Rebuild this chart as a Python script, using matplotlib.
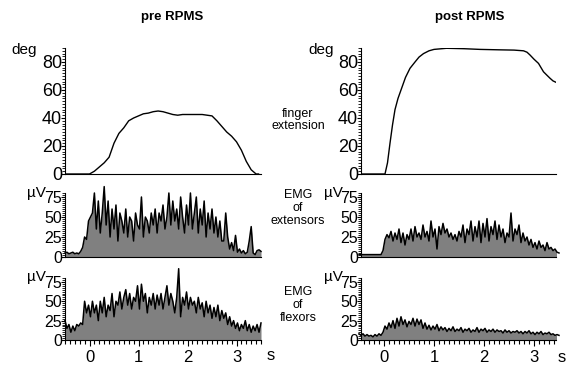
import numpy as np
import matplotlib.pyplot as plt
from matplotlib.ticker import MultipleLocator

plt.rcParams['font.family'] = ['Liberation Sans', 'DejaVu Sans']

# finger extension angle (deg)
t_ang_pre = [-0.5, -0.1, 0.0, 0.1, 0.2, 0.3, 0.4, 0.5, 0.6, 0.7, 0.8, 0.9, 1.0, 1.1, 1.2,
             1.3, 1.4, 1.5, 1.6, 1.7, 1.8, 1.9, 2.0, 2.1, 2.2, 2.3, 2.4, 2.5, 2.6, 2.7,
             2.8, 2.9, 3.0, 3.1, 3.2, 3.3, 3.4, 3.45]
deg_pre = [0, 0, 0, 2, 5, 8, 12, 22, 29, 33, 38, 40, 41.5, 43, 43.5,
           44.5, 45, 44.5, 43.5, 42.5, 42, 42.5, 42.5, 42.5, 42.5, 42.5, 42, 41.5, 38, 34,
           30, 27, 23, 17, 9, 3, 0, 0]

t_ang_post = [-0.5, 0.0, 0.02, 0.07, 0.12, 0.17, 0.22, 0.28, 0.35, 0.43, 0.52, 0.62, 0.7,
              0.79, 0.9, 1.0, 1.25, 1.6, 1.92, 2.3, 2.6, 2.79, 2.86, 2.92, 3.0, 3.09,
              3.19, 3.26, 3.32, 3.38, 3.44]
deg_post = [0, 0, 0, 8, 22, 35, 46, 54, 61, 69, 75.5, 80, 83.5,
            86, 88, 89, 89.8, 89.5, 89, 88.7, 88.5, 88, 87, 85, 82, 79,
            73, 70.5, 68.4, 66.5, 65.5]

# EMG envelopes (uV), sampled every 0.04 s from -0.5 s to 3.5 s
t_emg = np.linspace(-0.5, 3.5, 101)

ext_pre = [5, 6, 4, 5, 6, 4, 5, 4, 7, 12, 25, 22, 45, 50, 55, 80, 35, 70, 30, 55,
           88, 40, 70, 25, 60, 35, 65, 20, 55, 45, 30, 60, 25, 50, 45, 20, 55, 40, 35, 75,
           25, 50, 45, 30, 55, 40, 60, 30, 55, 45, 65, 35, 50, 80, 40, 70, 45, 60, 35, 75,
           50, 30, 65, 40, 80, 35, 55, 75, 30, 60, 40, 70, 25, 55, 35, 60, 30, 50, 25, 45,
           20, 20, 55, 25, 10, 18, 8, 27, 6, 10, 5, 8, 4, 6, 20, 38, 5, 3, 8, 9, 7]

flex_pre = [25, 15, 20, 10, 18, 12, 20, 18, 22, 20, 50, 35, 45, 30, 50, 35, 45, 25, 50, 35,
            55, 30, 45, 38, 60, 30, 50, 45, 62, 40, 55, 65, 45, 60, 40, 55, 50, 70, 40, 72,
            50, 60, 35, 55, 45, 60, 40, 58, 45, 60, 40, 55, 70, 45, 60, 50, 35, 55, 92, 30,
            55, 45, 62, 40, 55, 45, 50, 35, 55, 40, 48, 30, 50, 35, 45, 28, 42, 30, 45, 25,
            38, 28, 35, 20, 30, 18, 25, 15, 22, 12, 20, 15, 25, 12, 20, 10, 18, 12, 20, 10, 22]

ext_post = [3, 3, 3, 3, 3, 3, 3, 3, 3, 3, 3, 3, 8, 22, 28, 24, 32, 20, 30, 22,
            35, 18, 30, 15, 28, 22, 35, 20, 38, 25, 30, 22, 40, 25, 32, 20, 45, 25, 35, 10,
            38, 28, 42, 30, 35, 25, 30, 22, 28, 20, 32, 25, 40, 18, 35, 28, 45, 20, 38, 25,
            45, 18, 42, 25, 48, 20, 38, 28, 45, 22, 40, 25, 35, 18, 30, 25, 55, 20, 35, 28,
            40, 18, 30, 20, 25, 15, 22, 12, 18, 10, 20, 12, 15, 8, 18, 10, 12, 8, 10, 6, 5]

flex_post = [8, 6, 8, 5, 7, 5, 6, 4, 7, 5, 8, 6, 10, 18, 14, 22, 16, 25, 15, 28,
             18, 30, 20, 26, 17, 24, 20, 28, 18, 27, 20, 26, 15, 22, 14, 19, 13, 18, 14, 20,
             12, 17, 13, 16, 11, 15, 12, 17, 11, 14, 12, 16, 10, 14, 12, 15, 10, 13, 11, 16,
             10, 14, 12, 15, 10, 13, 11, 14, 10, 13, 11, 12, 9, 13, 10, 12, 9, 11, 10, 12,
             9, 11, 8, 11, 9, 12, 8, 10, 7, 10, 8, 11, 7, 9, 8, 10, 7, 8, 6, 7, 6]

W, H = 567, 366
fig = plt.figure(figsize=(W / 100, H / 100), dpi=100)


def px_axes(x0, x1, y0, y1):
    # y0 = bottom pixel row, y1 = top pixel row
    return fig.add_axes([x0 / W, 1 - y0 / H, (x1 - x0) / W, (y0 - y1) / H])


def style(ax, ymaj, ymin, fs, xt=False):
    for s in ['top', 'right']:
        ax.spines[s].set_visible(False)
    ax.yaxis.set_major_locator(MultipleLocator(ymaj))
    ax.yaxis.set_minor_locator(MultipleLocator(ymin))
    ax.tick_params(axis='y', which='major', length=3, width=0.8, pad=-1, labelsize=fs)
    ax.tick_params(axis='y', which='minor', length=2, width=0.6)
    if xt:
        ax.xaxis.set_major_locator(MultipleLocator(1))
        ax.xaxis.set_minor_locator(MultipleLocator(0.1))
        ax.tick_params(axis='x', which='major', length=4, width=0.8, pad=3, labelsize=12)
        ax.tick_params(axis='x', which='minor', length=3, width=0.8)
    else:
        ax.set_xticks([])


cols = [(65, 261, (-0.5, 3.5)), (361, 556, (-0.46, 3.44))]
for i, (x0, x1, xl) in enumerate(cols):
    # angle
    ax = px_axes(x0, x1, 174, 48)
    t_a, d_a = (t_ang_pre, deg_pre) if i == 0 else (t_ang_post, deg_post)
    ax.plot(t_a, d_a, color='black', lw=1)
    ax.set_xlim(*xl)
    ax.set_ylim(0, 90)
    style(ax, 20, 2, 13)

    # extensors
    ax = px_axes(x0, x1, 257, 193)
    e = ext_pre if i == 0 else ext_post
    ax.fill_between(t_emg, e, color='#808080', lw=0)
    ax.plot(t_emg, e, color='black', lw=1.1, clip_on=False)
    ax.set_xlim(*xl)
    ax.set_ylim(0, 80)
    style(ax, 25, 2.5, 11.5)

    # flexors
    ax = px_axes(x0, x1, 340, 278)
    f = flex_pre if i == 0 else flex_post
    ax.fill_between(t_emg, f, color='#808080', lw=0)
    ax.plot(t_emg, f, color='black', lw=1.1, clip_on=False)
    ax.set_xlim(*xl)
    ax.set_ylim(0, 80)
    style(ax, 25, 2.5, 11.5, xt=True)

    xo = 0 if i == 0 else 297
    fig.text((24 + xo) / W, 1 - 50 / H, 'deg', fontsize=11, ha='center', va='center')
    fig.text((46 + xo) / W, 1 - 193 / H, 'µV', fontsize=11, ha='right', va='center')
    fig.text((46 + xo) / W, 1 - 277 / H, 'µV', fontsize=11, ha='right', va='center')

fig.text(271 / W, 1 - 356 / H, 's', fontsize=12, ha='center', va='center')
fig.text(562 / W, 1 - 358 / H, 's', fontsize=12, ha='center', va='center')

fig.text(172 / W, 1 - 17 / H, 'pre RPMS', fontsize=9.5, fontweight='bold', ha='center', va='center')
fig.text(470 / W, 1 - 17 / H, 'post RPMS', fontsize=9.5, fontweight='bold', ha='center', va='center')

fig.text(298 / W, 1 - 120 / H, 'finger\nextension', fontsize=9, ha='center', va='center',
         linespacing=1.1)
fig.text(298 / W, 1 - 208 / H, 'EMG\nof\nextensors', fontsize=9, ha='center', va='center',
         linespacing=1.1)
fig.text(298 / W, 1 - 305 / H, 'EMG\nof\nflexors', fontsize=9, ha='center', va='center',
         linespacing=1.1)

fig.savefig('out.png', dpi=100)
